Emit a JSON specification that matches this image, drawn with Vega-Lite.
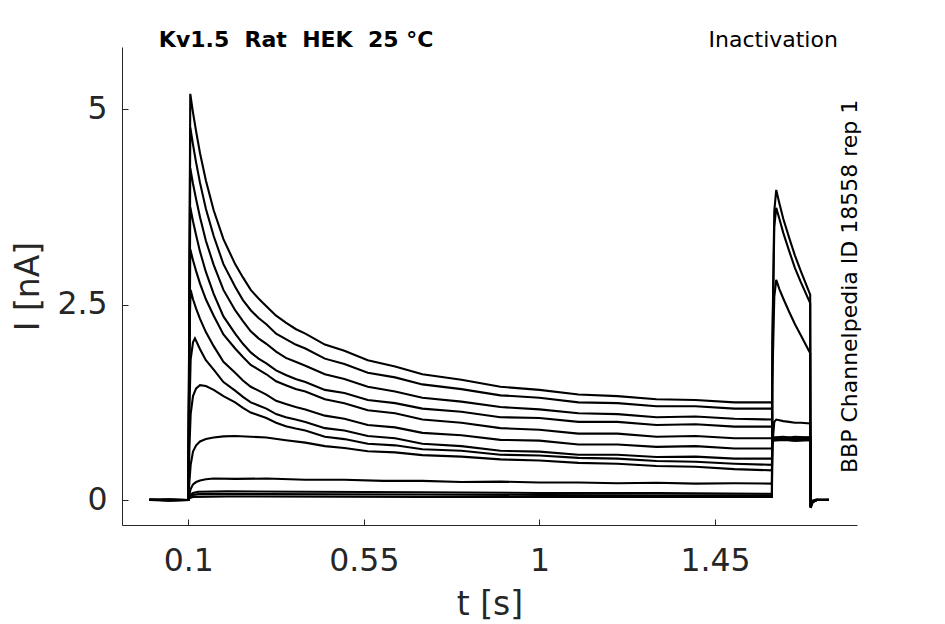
{
  "$schema": "https://vega.github.io/schema/vega-lite/v6.json",
  "width": 735,
  "height": 478,
  "autosize": {"type": "none"},
  "padding": {"left": 122, "top": 47, "right": 88, "bottom": 99},
  "background": "white",
  "config": {
    "view": {"stroke": null},
    "axis": {
      "grid": false,
      "domainColor": "#262626",
      "tickColor": "#262626",
      "labelColor": "#262626",
      "titleColor": "#262626",
      "labelFont": "DejaVu Sans",
      "titleFont": "DejaVu Sans",
      "labelFontSize": 31.5,
      "titleFontSize": 33,
      "titleFontWeight": "normal",
      "tickSize": -6
    }
  },
  "layer": [
    {
      "data": {
        "values": [
          {"trace": "a", "t": 0, "I": 0.01}, {"trace": "a", "t": 0.05, "I": -0.01}, {"trace": "a", "t": 0.1, "I": 0},
          {"trace": "a", "t": 0.105, "I": 5.2}, {"trace": "a", "t": 0.112, "I": 4.96}, {"trace": "a", "t": 0.12, "I": 4.72},
          {"trace": "a", "t": 0.13, "I": 4.44}, {"trace": "a", "t": 0.145, "I": 4.09}, {"trace": "a", "t": 0.165, "I": 3.71},
          {"trace": "a", "t": 0.19, "I": 3.34}, {"trace": "a", "t": 0.22, "I": 3.02}, {"trace": "a", "t": 0.24, "I": 2.85},
          {"trace": "a", "t": 0.26, "I": 2.69}, {"trace": "a", "t": 0.28, "I": 2.58}, {"trace": "a", "t": 0.3, "I": 2.48},
          {"trace": "a", "t": 0.325, "I": 2.36}, {"trace": "a", "t": 0.35, "I": 2.27}, {"trace": "a", "t": 0.375, "I": 2.19},
          {"trace": "a", "t": 0.4, "I": 2.13}, {"trace": "a", "t": 0.45, "I": 1.99}, {"trace": "a", "t": 0.5, "I": 1.91},
          {"trace": "a", "t": 0.56, "I": 1.79}, {"trace": "a", "t": 0.63, "I": 1.71}, {"trace": "a", "t": 0.7, "I": 1.61},
          {"trace": "a", "t": 0.8, "I": 1.54}, {"trace": "a", "t": 0.9, "I": 1.45}, {"trace": "a", "t": 1.0, "I": 1.41},
          {"trace": "a", "t": 1.1, "I": 1.35}, {"trace": "a", "t": 1.2, "I": 1.33}, {"trace": "a", "t": 1.3, "I": 1.29},
          {"trace": "a", "t": 1.4, "I": 1.28}, {"trace": "a", "t": 1.5, "I": 1.25}, {"trace": "a", "t": 1.596, "I": 1.25},
          {"trace": "a", "t": 1.597, "I": 0.8}, {"trace": "a", "t": 1.625, "I": 0.79}, {"trace": "a", "t": 1.655, "I": 0.81},
          {"trace": "a", "t": 1.694, "I": 0.8}, {"trace": "a", "t": 1.695, "I": -0.08}, {"trace": "a", "t": 1.7, "I": -0.02},
          {"trace": "a", "t": 1.71, "I": 0}, {"trace": "a", "t": 1.742, "I": 0},

          {"trace": "b", "t": 0, "I": 0}, {"trace": "b", "t": 0.05, "I": 0.01}, {"trace": "b", "t": 0.1, "I": 0},
          {"trace": "b", "t": 0.105, "I": 4.77}, {"trace": "b", "t": 0.112, "I": 4.55}, {"trace": "b", "t": 0.12, "I": 4.32},
          {"trace": "b", "t": 0.13, "I": 4.06}, {"trace": "b", "t": 0.145, "I": 3.73}, {"trace": "b", "t": 0.165, "I": 3.38},
          {"trace": "b", "t": 0.19, "I": 3.02}, {"trace": "b", "t": 0.22, "I": 2.73}, {"trace": "b", "t": 0.24, "I": 2.56},
          {"trace": "b", "t": 0.26, "I": 2.43}, {"trace": "b", "t": 0.28, "I": 2.33}, {"trace": "b", "t": 0.3, "I": 2.25},
          {"trace": "b", "t": 0.325, "I": 2.13}, {"trace": "b", "t": 0.35, "I": 2.06}, {"trace": "b", "t": 0.375, "I": 1.99},
          {"trace": "b", "t": 0.4, "I": 1.94}, {"trace": "b", "t": 0.45, "I": 1.81}, {"trace": "b", "t": 0.5, "I": 1.74},
          {"trace": "b", "t": 0.56, "I": 1.63}, {"trace": "b", "t": 0.63, "I": 1.57}, {"trace": "b", "t": 0.7, "I": 1.48},
          {"trace": "b", "t": 0.8, "I": 1.42}, {"trace": "b", "t": 0.9, "I": 1.34}, {"trace": "b", "t": 1.0, "I": 1.31},
          {"trace": "b", "t": 1.1, "I": 1.25}, {"trace": "b", "t": 1.2, "I": 1.24}, {"trace": "b", "t": 1.3, "I": 1.2},
          {"trace": "b", "t": 1.4, "I": 1.2}, {"trace": "b", "t": 1.5, "I": 1.17}, {"trace": "b", "t": 1.596, "I": 1.17},
          {"trace": "b", "t": 1.597, "I": 0.78}, {"trace": "b", "t": 1.625, "I": 0.79}, {"trace": "b", "t": 1.655, "I": 0.78},
          {"trace": "b", "t": 1.694, "I": 0.79}, {"trace": "b", "t": 1.695, "I": -0.08}, {"trace": "b", "t": 1.7, "I": -0.02},
          {"trace": "b", "t": 1.71, "I": 0.01}, {"trace": "b", "t": 1.742, "I": 0},

          {"trace": "c", "t": 0, "I": 0}, {"trace": "c", "t": 0.05, "I": 0}, {"trace": "c", "t": 0.1, "I": 0},
          {"trace": "c", "t": 0.105, "I": 4.25}, {"trace": "c", "t": 0.112, "I": 4.05}, {"trace": "c", "t": 0.12, "I": 3.85},
          {"trace": "c", "t": 0.13, "I": 3.62}, {"trace": "c", "t": 0.145, "I": 3.32}, {"trace": "c", "t": 0.165, "I": 3.01},
          {"trace": "c", "t": 0.19, "I": 2.69}, {"trace": "c", "t": 0.22, "I": 2.43}, {"trace": "c", "t": 0.24, "I": 2.29},
          {"trace": "c", "t": 0.26, "I": 2.16}, {"trace": "c", "t": 0.28, "I": 2.07}, {"trace": "c", "t": 0.3, "I": 2.0},
          {"trace": "c", "t": 0.325, "I": 1.9}, {"trace": "c", "t": 0.35, "I": 1.82}, {"trace": "c", "t": 0.375, "I": 1.77},
          {"trace": "c", "t": 0.4, "I": 1.72}, {"trace": "c", "t": 0.45, "I": 1.61}, {"trace": "c", "t": 0.5, "I": 1.55},
          {"trace": "c", "t": 0.56, "I": 1.45}, {"trace": "c", "t": 0.63, "I": 1.39}, {"trace": "c", "t": 0.7, "I": 1.31},
          {"trace": "c", "t": 0.8, "I": 1.26}, {"trace": "c", "t": 0.9, "I": 1.19}, {"trace": "c", "t": 1.0, "I": 1.16},
          {"trace": "c", "t": 1.1, "I": 1.11}, {"trace": "c", "t": 1.2, "I": 1.1}, {"trace": "c", "t": 1.3, "I": 1.06},
          {"trace": "c", "t": 1.4, "I": 1.07}, {"trace": "c", "t": 1.5, "I": 1.04}, {"trace": "c", "t": 1.596, "I": 1.03},
          {"trace": "c", "t": 1.597, "I": 0.77}, {"trace": "c", "t": 1.625, "I": 0.78}, {"trace": "c", "t": 1.655, "I": 0.77},
          {"trace": "c", "t": 1.694, "I": 0.78}, {"trace": "c", "t": 1.695, "I": -0.07}, {"trace": "c", "t": 1.7, "I": -0.02},
          {"trace": "c", "t": 1.71, "I": 0}, {"trace": "c", "t": 1.742, "I": 0},

          {"trace": "d", "t": 0, "I": 0.01}, {"trace": "d", "t": 0.05, "I": 0}, {"trace": "d", "t": 0.1, "I": 0},
          {"trace": "d", "t": 0.105, "I": 3.75}, {"trace": "d", "t": 0.112, "I": 3.57}, {"trace": "d", "t": 0.12, "I": 3.39},
          {"trace": "d", "t": 0.13, "I": 3.18}, {"trace": "d", "t": 0.145, "I": 2.92}, {"trace": "d", "t": 0.165, "I": 2.64},
          {"trace": "d", "t": 0.19, "I": 2.35}, {"trace": "d", "t": 0.22, "I": 2.13}, {"trace": "d", "t": 0.24, "I": 2.0},
          {"trace": "d", "t": 0.26, "I": 1.89}, {"trace": "d", "t": 0.28, "I": 1.81}, {"trace": "d", "t": 0.3, "I": 1.75},
          {"trace": "d", "t": 0.325, "I": 1.66}, {"trace": "d", "t": 0.35, "I": 1.6}, {"trace": "d", "t": 0.375, "I": 1.55},
          {"trace": "d", "t": 0.4, "I": 1.51}, {"trace": "d", "t": 0.45, "I": 1.41}, {"trace": "d", "t": 0.5, "I": 1.37},
          {"trace": "d", "t": 0.56, "I": 1.28}, {"trace": "d", "t": 0.63, "I": 1.24}, {"trace": "d", "t": 0.7, "I": 1.17},
          {"trace": "d", "t": 0.8, "I": 1.13}, {"trace": "d", "t": 0.9, "I": 1.06}, {"trace": "d", "t": 1.0, "I": 1.05},
          {"trace": "d", "t": 1.1, "I": 1.0}, {"trace": "d", "t": 1.2, "I": 1.0}, {"trace": "d", "t": 1.3, "I": 0.96},
          {"trace": "d", "t": 1.4, "I": 0.97}, {"trace": "d", "t": 1.5, "I": 0.94}, {"trace": "d", "t": 1.596, "I": 0.94},
          {"trace": "d", "t": 1.597, "I": 0.79}, {"trace": "d", "t": 1.625, "I": 0.8}, {"trace": "d", "t": 1.655, "I": 0.79},
          {"trace": "d", "t": 1.694, "I": 0.8}, {"trace": "d", "t": 1.695, "I": -0.08}, {"trace": "d", "t": 1.7, "I": -0.01},
          {"trace": "d", "t": 1.71, "I": 0}, {"trace": "d", "t": 1.742, "I": 0.01},

          {"trace": "e", "t": 0, "I": 0}, {"trace": "e", "t": 0.05, "I": -0.01}, {"trace": "e", "t": 0.1, "I": 0},
          {"trace": "e", "t": 0.105, "I": 3.21}, {"trace": "e", "t": 0.112, "I": 3.07}, {"trace": "e", "t": 0.12, "I": 2.93},
          {"trace": "e", "t": 0.13, "I": 2.77}, {"trace": "e", "t": 0.145, "I": 2.57}, {"trace": "e", "t": 0.165, "I": 2.36},
          {"trace": "e", "t": 0.19, "I": 2.12}, {"trace": "e", "t": 0.22, "I": 1.94}, {"trace": "e", "t": 0.24, "I": 1.83},
          {"trace": "e", "t": 0.26, "I": 1.73}, {"trace": "e", "t": 0.28, "I": 1.67}, {"trace": "e", "t": 0.3, "I": 1.61},
          {"trace": "e", "t": 0.325, "I": 1.52}, {"trace": "e", "t": 0.35, "I": 1.47}, {"trace": "e", "t": 0.375, "I": 1.42},
          {"trace": "e", "t": 0.4, "I": 1.39}, {"trace": "e", "t": 0.45, "I": 1.29}, {"trace": "e", "t": 0.5, "I": 1.24},
          {"trace": "e", "t": 0.56, "I": 1.15}, {"trace": "e", "t": 0.63, "I": 1.11}, {"trace": "e", "t": 0.7, "I": 1.03},
          {"trace": "e", "t": 0.8, "I": 0.99}, {"trace": "e", "t": 0.9, "I": 0.92}, {"trace": "e", "t": 1.0, "I": 0.9},
          {"trace": "e", "t": 1.1, "I": 0.85}, {"trace": "e", "t": 1.2, "I": 0.85}, {"trace": "e", "t": 1.3, "I": 0.81},
          {"trace": "e", "t": 1.4, "I": 0.82}, {"trace": "e", "t": 1.5, "I": 0.79}, {"trace": "e", "t": 1.596, "I": 0.79},
          {"trace": "e", "t": 1.597, "I": 0.78}, {"trace": "e", "t": 1.625, "I": 0.77}, {"trace": "e", "t": 1.655, "I": 0.78},
          {"trace": "e", "t": 1.694, "I": 0.77}, {"trace": "e", "t": 1.695, "I": -0.07}, {"trace": "e", "t": 1.7, "I": -0.02},
          {"trace": "e", "t": 1.71, "I": 0}, {"trace": "e", "t": 1.742, "I": 0},

          {"trace": "f", "t": 0, "I": 0}, {"trace": "f", "t": 0.05, "I": 0.01}, {"trace": "f", "t": 0.1, "I": 0},
          {"trace": "f", "t": 0.103, "I": 2.2}, {"trace": "f", "t": 0.106, "I": 2.69}, {"trace": "f", "t": 0.112, "I": 2.57},
          {"trace": "f", "t": 0.12, "I": 2.45}, {"trace": "f", "t": 0.13, "I": 2.32}, {"trace": "f", "t": 0.145, "I": 2.15},
          {"trace": "f", "t": 0.165, "I": 1.97}, {"trace": "f", "t": 0.19, "I": 1.77}, {"trace": "f", "t": 0.22, "I": 1.63},
          {"trace": "f", "t": 0.24, "I": 1.53}, {"trace": "f", "t": 0.26, "I": 1.45}, {"trace": "f", "t": 0.28, "I": 1.4},
          {"trace": "f", "t": 0.3, "I": 1.35}, {"trace": "f", "t": 0.325, "I": 1.27}, {"trace": "f", "t": 0.35, "I": 1.23},
          {"trace": "f", "t": 0.375, "I": 1.19}, {"trace": "f", "t": 0.4, "I": 1.16}, {"trace": "f", "t": 0.45, "I": 1.08},
          {"trace": "f", "t": 0.5, "I": 1.04}, {"trace": "f", "t": 0.56, "I": 0.96}, {"trace": "f", "t": 0.63, "I": 0.93},
          {"trace": "f", "t": 0.7, "I": 0.86}, {"trace": "f", "t": 0.8, "I": 0.83}, {"trace": "f", "t": 0.9, "I": 0.77},
          {"trace": "f", "t": 1.0, "I": 0.76}, {"trace": "f", "t": 1.1, "I": 0.71}, {"trace": "f", "t": 1.2, "I": 0.71},
          {"trace": "f", "t": 1.3, "I": 0.68}, {"trace": "f", "t": 1.4, "I": 0.69}, {"trace": "f", "t": 1.5, "I": 0.66},
          {"trace": "f", "t": 1.596, "I": 0.66}, {"trace": "f", "t": 1.597, "I": 0.8}, {"trace": "f", "t": 1.625, "I": 0.81},
          {"trace": "f", "t": 1.655, "I": 0.79}, {"trace": "f", "t": 1.694, "I": 0.8}, {"trace": "f", "t": 1.695, "I": -0.08},
          {"trace": "f", "t": 1.7, "I": -0.02}, {"trace": "f", "t": 1.71, "I": 0}, {"trace": "f", "t": 1.742, "I": 0},

          {"trace": "g", "t": 0, "I": 0}, {"trace": "g", "t": 0.05, "I": 0}, {"trace": "g", "t": 0.1, "I": 0},
          {"trace": "g", "t": 0.103, "I": 1.2}, {"trace": "g", "t": 0.106, "I": 1.8}, {"trace": "g", "t": 0.112, "I": 2.02},
          {"trace": "g", "t": 0.117, "I": 2.07}, {"trace": "g", "t": 0.13, "I": 1.93}, {"trace": "g", "t": 0.145, "I": 1.79},
          {"trace": "g", "t": 0.165, "I": 1.67}, {"trace": "g", "t": 0.19, "I": 1.51}, {"trace": "g", "t": 0.22, "I": 1.4},
          {"trace": "g", "t": 0.24, "I": 1.32}, {"trace": "g", "t": 0.26, "I": 1.25}, {"trace": "g", "t": 0.28, "I": 1.21},
          {"trace": "g", "t": 0.3, "I": 1.17}, {"trace": "g", "t": 0.325, "I": 1.1}, {"trace": "g", "t": 0.35, "I": 1.06},
          {"trace": "g", "t": 0.375, "I": 1.03}, {"trace": "g", "t": 0.4, "I": 1.0}, {"trace": "g", "t": 0.45, "I": 0.92},
          {"trace": "g", "t": 0.5, "I": 0.89}, {"trace": "g", "t": 0.56, "I": 0.82}, {"trace": "g", "t": 0.63, "I": 0.79},
          {"trace": "g", "t": 0.7, "I": 0.72}, {"trace": "g", "t": 0.8, "I": 0.69}, {"trace": "g", "t": 0.9, "I": 0.63},
          {"trace": "g", "t": 1.0, "I": 0.62}, {"trace": "g", "t": 1.1, "I": 0.58}, {"trace": "g", "t": 1.2, "I": 0.58},
          {"trace": "g", "t": 1.3, "I": 0.55}, {"trace": "g", "t": 1.4, "I": 0.555}, {"trace": "g", "t": 1.5, "I": 0.53},
          {"trace": "g", "t": 1.596, "I": 0.53}, {"trace": "g", "t": 1.597, "I": 0.77}, {"trace": "g", "t": 1.625, "I": 0.78},
          {"trace": "g", "t": 1.655, "I": 0.76}, {"trace": "g", "t": 1.694, "I": 0.77}, {"trace": "g", "t": 1.695, "I": -0.07},
          {"trace": "g", "t": 1.7, "I": -0.02}, {"trace": "g", "t": 1.71, "I": 0}, {"trace": "g", "t": 1.742, "I": 0},

          {"trace": "h", "t": 0, "I": 0}, {"trace": "h", "t": 0.05, "I": 0}, {"trace": "h", "t": 0.1, "I": 0},
          {"trace": "h", "t": 0.103, "I": 0.7}, {"trace": "h", "t": 0.106, "I": 1.1}, {"trace": "h", "t": 0.112, "I": 1.33},
          {"trace": "h", "t": 0.12, "I": 1.43}, {"trace": "h", "t": 0.13, "I": 1.47}, {"trace": "h", "t": 0.145, "I": 1.46},
          {"trace": "h", "t": 0.165, "I": 1.41}, {"trace": "h", "t": 0.19, "I": 1.33}, {"trace": "h", "t": 0.22, "I": 1.25},
          {"trace": "h", "t": 0.24, "I": 1.18}, {"trace": "h", "t": 0.26, "I": 1.12}, {"trace": "h", "t": 0.28, "I": 1.085},
          {"trace": "h", "t": 0.3, "I": 1.05}, {"trace": "h", "t": 0.325, "I": 0.99}, {"trace": "h", "t": 0.35, "I": 0.945},
          {"trace": "h", "t": 0.375, "I": 0.915}, {"trace": "h", "t": 0.4, "I": 0.89}, {"trace": "h", "t": 0.45, "I": 0.81},
          {"trace": "h", "t": 0.5, "I": 0.78}, {"trace": "h", "t": 0.56, "I": 0.72}, {"trace": "h", "t": 0.63, "I": 0.7},
          {"trace": "h", "t": 0.7, "I": 0.65}, {"trace": "h", "t": 0.8, "I": 0.63}, {"trace": "h", "t": 0.9, "I": 0.58},
          {"trace": "h", "t": 1.0, "I": 0.57}, {"trace": "h", "t": 1.1, "I": 0.54}, {"trace": "h", "t": 1.2, "I": 0.53},
          {"trace": "h", "t": 1.3, "I": 0.5}, {"trace": "h", "t": 1.4, "I": 0.49}, {"trace": "h", "t": 1.5, "I": 0.465},
          {"trace": "h", "t": 1.596, "I": 0.45}, {"trace": "h", "t": 1.597, "I": 0.78}, {"trace": "h", "t": 1.625, "I": 0.79},
          {"trace": "h", "t": 1.655, "I": 0.77}, {"trace": "h", "t": 1.694, "I": 0.78}, {"trace": "h", "t": 1.695, "I": -0.07},
          {"trace": "h", "t": 1.7, "I": -0.01}, {"trace": "h", "t": 1.71, "I": 0}, {"trace": "h", "t": 1.742, "I": 0},

          {"trace": "i", "t": 0, "I": 0}, {"trace": "i", "t": 0.05, "I": 0}, {"trace": "i", "t": 0.1, "I": 0},
          {"trace": "i", "t": 0.103, "I": 0.25}, {"trace": "i", "t": 0.106, "I": 0.45}, {"trace": "i", "t": 0.112, "I": 0.62},
          {"trace": "i", "t": 0.12, "I": 0.7}, {"trace": "i", "t": 0.13, "I": 0.75}, {"trace": "i", "t": 0.145, "I": 0.78},
          {"trace": "i", "t": 0.165, "I": 0.8}, {"trace": "i", "t": 0.19, "I": 0.815}, {"trace": "i", "t": 0.22, "I": 0.82},
          {"trace": "i", "t": 0.26, "I": 0.81}, {"trace": "i", "t": 0.3, "I": 0.8}, {"trace": "i", "t": 0.35, "I": 0.765},
          {"trace": "i", "t": 0.4, "I": 0.735}, {"trace": "i", "t": 0.45, "I": 0.69}, {"trace": "i", "t": 0.5, "I": 0.665},
          {"trace": "i", "t": 0.56, "I": 0.625}, {"trace": "i", "t": 0.63, "I": 0.61}, {"trace": "i", "t": 0.7, "I": 0.575},
          {"trace": "i", "t": 0.8, "I": 0.555}, {"trace": "i", "t": 0.9, "I": 0.52}, {"trace": "i", "t": 1.0, "I": 0.505},
          {"trace": "i", "t": 1.1, "I": 0.475}, {"trace": "i", "t": 1.2, "I": 0.465}, {"trace": "i", "t": 1.3, "I": 0.435},
          {"trace": "i", "t": 1.4, "I": 0.425}, {"trace": "i", "t": 1.5, "I": 0.395}, {"trace": "i", "t": 1.596, "I": 0.38},
          {"trace": "i", "t": 1.597, "I": 0.76}, {"trace": "i", "t": 1.625, "I": 0.77}, {"trace": "i", "t": 1.655, "I": 0.76},
          {"trace": "i", "t": 1.694, "I": 0.77}, {"trace": "i", "t": 1.695, "I": -0.07}, {"trace": "i", "t": 1.7, "I": -0.02},
          {"trace": "i", "t": 1.71, "I": 0}, {"trace": "i", "t": 1.742, "I": 0},

          {"trace": "j", "t": 0, "I": 0}, {"trace": "j", "t": 0.05, "I": 0}, {"trace": "j", "t": 0.1, "I": 0},
          {"trace": "j", "t": 0.103, "I": 0.08}, {"trace": "j", "t": 0.106, "I": 0.14}, {"trace": "j", "t": 0.112, "I": 0.2},
          {"trace": "j", "t": 0.12, "I": 0.23}, {"trace": "j", "t": 0.13, "I": 0.25}, {"trace": "j", "t": 0.145, "I": 0.265},
          {"trace": "j", "t": 0.165, "I": 0.275}, {"trace": "j", "t": 0.22, "I": 0.27}, {"trace": "j", "t": 0.3, "I": 0.275},
          {"trace": "j", "t": 0.4, "I": 0.26}, {"trace": "j", "t": 0.5, "I": 0.26}, {"trace": "j", "t": 0.6, "I": 0.245},
          {"trace": "j", "t": 0.7, "I": 0.245}, {"trace": "j", "t": 0.8, "I": 0.23}, {"trace": "j", "t": 0.9, "I": 0.235},
          {"trace": "j", "t": 1.0, "I": 0.225}, {"trace": "j", "t": 1.1, "I": 0.225}, {"trace": "j", "t": 1.2, "I": 0.215},
          {"trace": "j", "t": 1.3, "I": 0.22}, {"trace": "j", "t": 1.4, "I": 0.21}, {"trace": "j", "t": 1.5, "I": 0.215},
          {"trace": "j", "t": 1.596, "I": 0.21}, {"trace": "j", "t": 1.597, "I": 0.7}, {"trace": "j", "t": 1.602, "I": 1.0},
          {"trace": "j", "t": 1.607, "I": 1.03}, {"trace": "j", "t": 1.625, "I": 1.01}, {"trace": "j", "t": 1.64, "I": 1.0},
          {"trace": "j", "t": 1.655, "I": 0.99}, {"trace": "j", "t": 1.67, "I": 0.99}, {"trace": "j", "t": 1.694, "I": 0.98},
          {"trace": "j", "t": 1.695, "I": -0.08}, {"trace": "j", "t": 1.7, "I": -0.02}, {"trace": "j", "t": 1.71, "I": 0}, {"trace": "j", "t": 1.742, "I": 0},

          {"trace": "k", "t": 0, "I": 0}, {"trace": "k", "t": 0.05, "I": 0}, {"trace": "k", "t": 0.1, "I": 0},
          {"trace": "k", "t": 0.103, "I": 0.04}, {"trace": "k", "t": 0.106, "I": 0.07}, {"trace": "k", "t": 0.112, "I": 0.09},
          {"trace": "k", "t": 0.125, "I": 0.105}, {"trace": "k", "t": 0.2, "I": 0.11}, {"trace": "k", "t": 0.4, "I": 0.105},
          {"trace": "k", "t": 0.7, "I": 0.1}, {"trace": "k", "t": 1.0, "I": 0.09}, {"trace": "k", "t": 1.3, "I": 0.09},
          {"trace": "k", "t": 1.596, "I": 0.08}, {"trace": "k", "t": 1.597, "I": 1.5}, {"trace": "k", "t": 1.602, "I": 2.6},
          {"trace": "k", "t": 1.607, "I": 2.82}, {"trace": "k", "t": 1.615, "I": 2.7}, {"trace": "k", "t": 1.625, "I": 2.58},
          {"trace": "k", "t": 1.64, "I": 2.41}, {"trace": "k", "t": 1.655, "I": 2.25}, {"trace": "k", "t": 1.67, "I": 2.11},
          {"trace": "k", "t": 1.694, "I": 1.88}, {"trace": "k", "t": 1.695, "I": -0.09}, {"trace": "k", "t": 1.7, "I": -0.03},
          {"trace": "k", "t": 1.71, "I": 0}, {"trace": "k", "t": 1.742, "I": 0},

          {"trace": "l", "t": 0, "I": 0}, {"trace": "l", "t": 0.05, "I": 0}, {"trace": "l", "t": 0.1, "I": 0},
          {"trace": "l", "t": 0.103, "I": 0.03}, {"trace": "l", "t": 0.106, "I": 0.05}, {"trace": "l", "t": 0.112, "I": 0.065},
          {"trace": "l", "t": 0.125, "I": 0.075}, {"trace": "l", "t": 0.3, "I": 0.075}, {"trace": "l", "t": 0.7, "I": 0.07},
          {"trace": "l", "t": 1.0, "I": 0.065}, {"trace": "l", "t": 1.3, "I": 0.06}, {"trace": "l", "t": 1.596, "I": 0.06},
          {"trace": "l", "t": 1.597, "I": 1.9}, {"trace": "l", "t": 1.602, "I": 3.5}, {"trace": "l", "t": 1.607, "I": 3.74},
          {"trace": "l", "t": 1.615, "I": 3.6}, {"trace": "l", "t": 1.625, "I": 3.42}, {"trace": "l", "t": 1.64, "I": 3.19},
          {"trace": "l", "t": 1.655, "I": 2.97}, {"trace": "l", "t": 1.67, "I": 2.79}, {"trace": "l", "t": 1.694, "I": 2.52},
          {"trace": "l", "t": 1.695, "I": -0.1}, {"trace": "l", "t": 1.7, "I": -0.03}, {"trace": "l", "t": 1.71, "I": 0}, {"trace": "l", "t": 1.742, "I": 0},

          {"trace": "m", "t": 0, "I": 0}, {"trace": "m", "t": 0.05, "I": 0}, {"trace": "m", "t": 0.1, "I": 0},
          {"trace": "m", "t": 0.103, "I": 0.02}, {"trace": "m", "t": 0.106, "I": 0.03}, {"trace": "m", "t": 0.112, "I": 0.04},
          {"trace": "m", "t": 0.2, "I": 0.045}, {"trace": "m", "t": 0.7, "I": 0.04}, {"trace": "m", "t": 1.2, "I": 0.04},
          {"trace": "m", "t": 1.596, "I": 0.04}, {"trace": "m", "t": 1.597, "I": 2.0}, {"trace": "m", "t": 1.602, "I": 3.7},
          {"trace": "m", "t": 1.607, "I": 3.97}, {"trace": "m", "t": 1.615, "I": 3.8}, {"trace": "m", "t": 1.625, "I": 3.6},
          {"trace": "m", "t": 1.64, "I": 3.36}, {"trace": "m", "t": 1.655, "I": 3.13}, {"trace": "m", "t": 1.67, "I": 2.93},
          {"trace": "m", "t": 1.694, "I": 2.63}, {"trace": "m", "t": 1.695, "I": -0.1}, {"trace": "m", "t": 1.7, "I": -0.03},
          {"trace": "m", "t": 1.71, "I": 0}, {"trace": "m", "t": 1.742, "I": 0}
        ]
      },
      "mark": {"type": "line", "color": "black", "strokeWidth": 2.1},
      "encoding": {
        "x": {
          "field": "t",
          "type": "quantitative",
          "scale": {"domain": [-0.07, 1.814], "nice": false, "zero": false},
          "axis": {
            "title": "t [s]",
            "values": [0.1, 0.55, 1, 1.45],
            "format": ".3~g",
            "labelPadding": 26,
            "titleBaseline": "alphabetic",
            "titleY": 89
          }
        },
        "y": {
          "field": "I",
          "type": "quantitative",
          "scale": {"domain": [-0.32, 5.8], "nice": false, "zero": false},
          "axis": {
            "title": "I [nA]",
            "values": [0, 2.5, 5],
            "format": ".3~g",
            "labelPadding": 21,
            "titleBaseline": "alphabetic",
            "titleX": -84
          }
        },
        "detail": {"field": "trace", "type": "nominal"}
      }
    },
    {
      "data": {"values": [{}]},
      "mark": {"type": "text", "text": "Kv1.5\u00a0 Rat\u00a0 HEK\u00a0 25 °C", "align": "left", "baseline": "alphabetic", "font": "DejaVu Sans", "fontSize": 22, "fontWeight": "bold", "color": "black"},
      "encoding": {
        "x": {"datum": 0.0244, "type": "quantitative"},
        "y": {"datum": 5.8, "type": "quantitative"}
      }
    },
    {
      "data": {"values": [{}]},
      "mark": {"type": "text", "text": "Inactivation", "align": "right", "baseline": "alphabetic", "font": "DejaVu Sans", "fontSize": 22, "color": "black"},
      "encoding": {
        "x": {"datum": 1.765, "type": "quantitative"},
        "y": {"datum": 5.8, "type": "quantitative"}
      }
    },
    {
      "data": {"values": [{}]},
      "mark": {"type": "text", "text": "BBP Channelpedia ID 18558 rep 1", "align": "center", "baseline": "alphabetic", "angle": 270, "font": "DejaVu Sans", "fontSize": 22, "color": "black"},
      "encoding": {
        "x": {"datum": 1.814, "type": "quantitative"},
        "y": {"datum": 2.735, "type": "quantitative"}
      }
    }
  ]
}
